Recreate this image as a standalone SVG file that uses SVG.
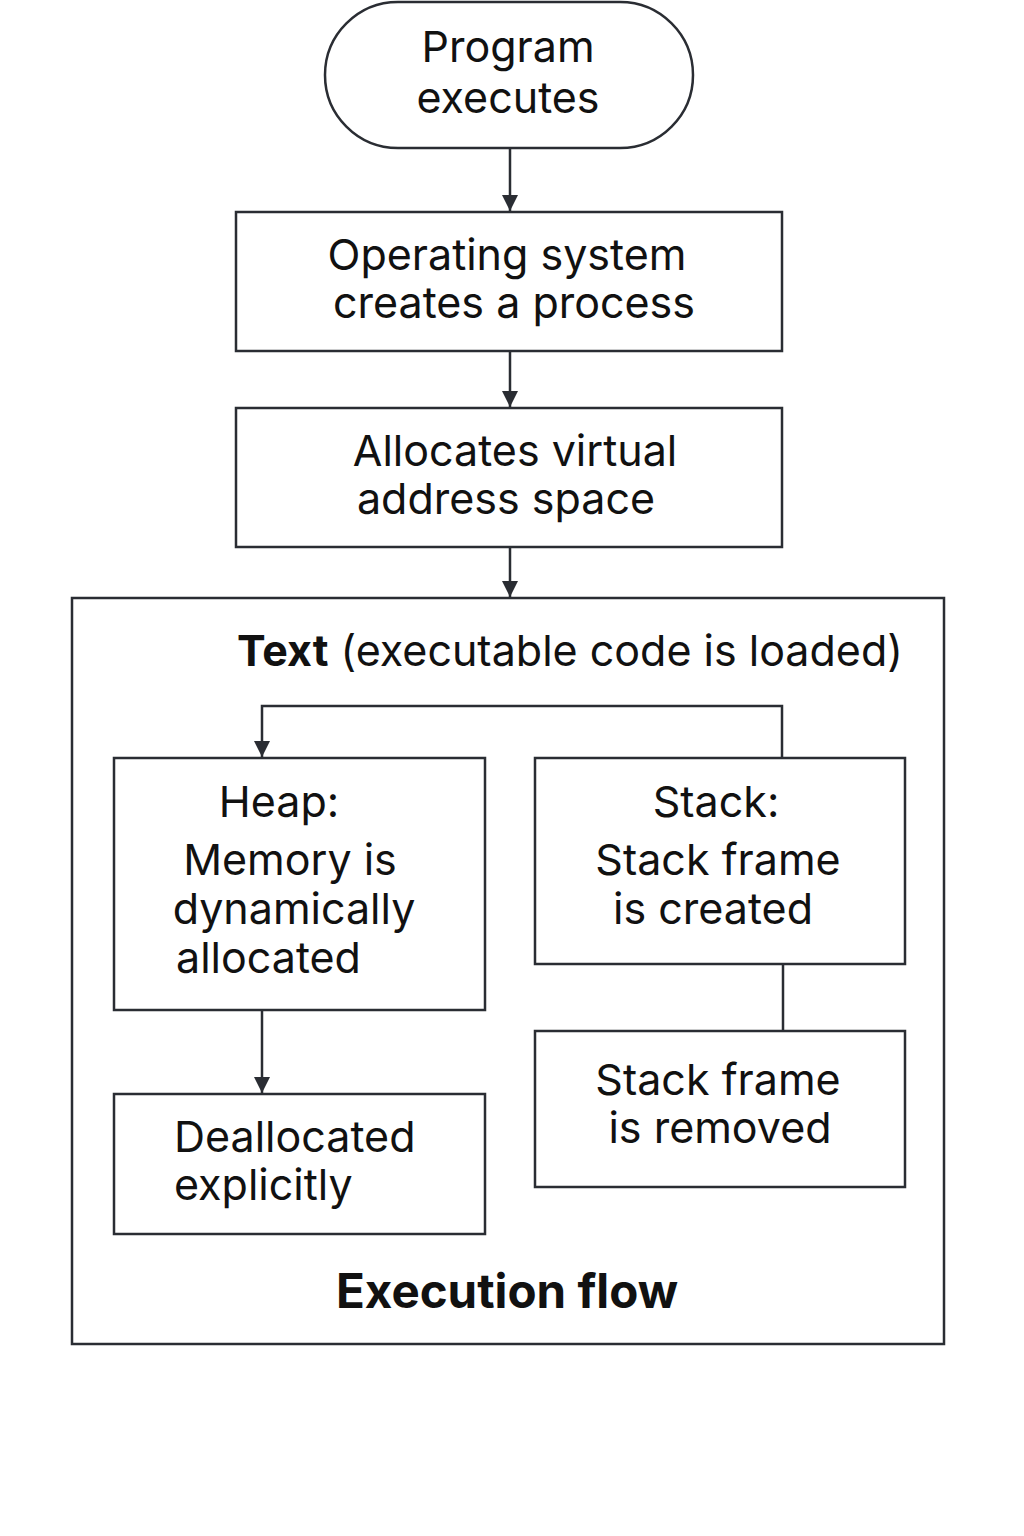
<svg xmlns="http://www.w3.org/2000/svg" width="1024" height="1536" viewBox="0 0 1024 1536">
<style>
.box{fill:#fff;stroke:#2a2d33;stroke-width:2.5}
.t{font-family:Inter,"Liberation Sans",sans-serif;font-size:43px;fill:#111}
.c{stroke:#2a2d33;stroke-width:2.5;fill:none}
.b{font-weight:bold}
</style>
<defs>
<marker id="arr" viewBox="0 0 16 16" refX="16" refY="8" markerWidth="16" markerHeight="16" orient="auto" markerUnits="userSpaceOnUse">
<path d="M0,0 L16,8 L0,16 Z" fill="#2a2d33"/>
</marker>
</defs>
<rect width="1024" height="1536" fill="#fff"/>
<g id="connectors">
<line class="c" x1="510" y1="149" x2="510" y2="211" marker-end="url(#arr)"/>
<line class="c" x1="510" y1="352" x2="510" y2="407" marker-end="url(#arr)"/>
<line class="c" x1="510" y1="548" x2="510" y2="597" marker-end="url(#arr)"/>
<polyline class="c" points="782,757 782,706 262,706 262,757" marker-end="url(#arr)"/>
<line class="c" x1="783" y1="964" x2="783" y2="1031"/>
<line class="c" x1="262" y1="1011" x2="262" y2="1093" marker-end="url(#arr)"/>
</g>
<g id="execution_flow">
<rect class="box" x="72" y="598" width="872" height="746" style="fill:none"/>
<text class="t" x="237" y="666"><tspan class="b">Text</tspan> (executable code is loaded)</text>
<text class="t b" x="507" y="1308" text-anchor="middle" style="font-size:47.5px">Execution flow</text>
</g>
<g id="program_executes">
<rect class="box" x="325" y="2" width="368" height="146" rx="73"/>
<text class="t" x="508" y="62" text-anchor="middle">Program</text>
<text class="t" x="508" y="113" text-anchor="middle">executes</text>
</g>
<g id="os_creates_process">
<rect class="box" x="236" y="212" width="546" height="139"/>
<text class="t" x="507" y="270" text-anchor="middle">Operating system</text>
<text class="t" x="514" y="318" text-anchor="middle">creates a process</text>
</g>
<g id="allocates_vas">
<rect class="box" x="236" y="408" width="546" height="139"/>
<text class="t" x="515" y="466" text-anchor="middle">Allocates virtual</text>
<text class="t" x="506" y="514" text-anchor="middle">address space</text>
</g>
<g id="heap">
<rect class="box" x="114" y="758" width="371" height="252"/>
<text class="t" x="279" y="817" text-anchor="middle">Heap:</text>
<text class="t" x="290" y="875" text-anchor="middle">Memory is</text>
<text class="t" x="294" y="924" text-anchor="middle">dynamically</text>
<text class="t" x="176" y="973">allocated</text>
</g>
<g id="stack">
<rect class="box" x="535" y="758" width="370" height="206"/>
<text class="t" x="716" y="817" text-anchor="middle">Stack:</text>
<text class="t" x="718" y="875" text-anchor="middle">Stack frame</text>
<text class="t" x="713" y="924" text-anchor="middle">is created</text>
</g>
<g id="stack_removed">
<rect class="box" x="535" y="1031" width="370" height="156"/>
<text class="t" x="718" y="1095" text-anchor="middle">Stack frame</text>
<text class="t" x="720" y="1143" text-anchor="middle">is removed</text>
</g>
<g id="deallocated">
<rect class="box" x="114" y="1094" width="371" height="140"/>
<text class="t" x="174" y="1152">Deallocated</text>
<text class="t" x="174" y="1200">explicitly</text>
</g>
</svg>
